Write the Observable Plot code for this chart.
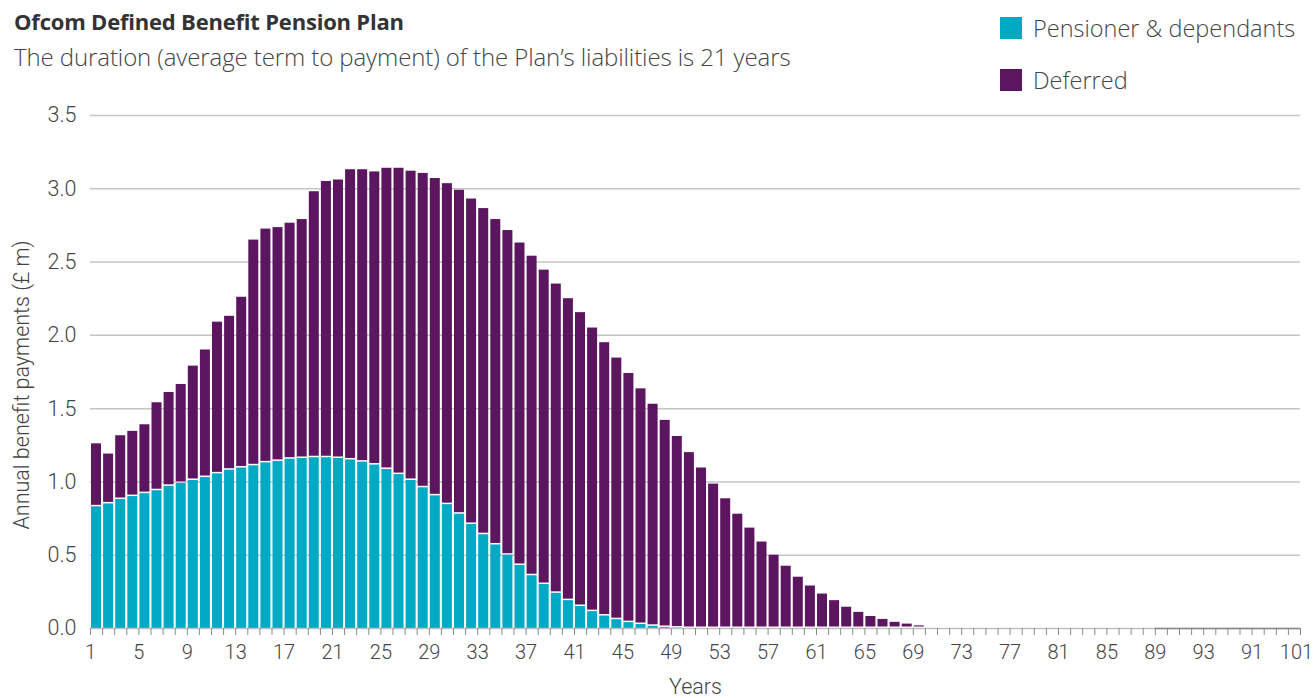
<!DOCTYPE html>
<html><head><meta charset="utf-8">
<script src="https://cdn.jsdelivr.net/npm/d3@7"></script>
<script src="https://cdn.jsdelivr.net/npm/@observablehq/plot@0.6"></script>
<style>
body{margin:0;background:#fff;font-family:"Open Sans",Roboto,sans-serif;color:#3a3a3a;}
#wrap{position:relative;width:1314px;height:698px;overflow:hidden;}
#head{position:relative;height:100px;}
#title{position:absolute;left:14px;top:6px;font-size:22px;font-weight:700;color:#333;letter-spacing:-0.2px;}
#sub{position:absolute;left:14px;top:40px;font-size:24px;font-weight:300;color:#444;letter-spacing:-0.1px;}
.leg{position:absolute;left:1000px;display:flex;align-items:center;font-size:23.5px;font-weight:300;color:#444;}
.sw{width:22px;height:22px;margin-right:11px;}
</style></head>
<body><div id="wrap">
<div id="head">
<div id="title">Ofcom Defined Benefit Pension Plan</div>
<div id="sub">The duration (average term to payment) of the Plan’s liabilities is 21 years</div>
<div class="leg" style="top:12px"><div class="sw" id="sw0"></div><span id="lg0"></span></div>
<div class="leg" style="top:64px"><div class="sw" id="sw1"></div><span id="lg1"></span></div>
</div>
<div id="chart"></div>
</div>
<script>
const seriesNames = ["Pensioner & dependants", "Deferred"];
const seriesColors = ["#00a9c4", "#5c165f"];
const years = d3.range(1, 101);
const pensioner = [
 0.83,0.85,0.88,0.90,0.92,0.94,0.97,0.99,1.01,1.03,
 1.055,1.08,1.095,1.11,1.13,1.14,1.155,1.16,1.165,1.165,
 1.16,1.15,1.135,1.115,1.085,1.05,1.01,0.96,0.905,0.845,
 0.78,0.71,0.64,0.57,0.50,0.43,0.36,0.30,0.24,0.19,
 0.15,0.115,0.085,0.06,0.04,0.027,0.015,0.007,0.003,0,
 0,0,0,0,0,0,0,0,0,0,
 0,0,0,0,0,0,0,0,0,0,
 0,0,0,0,0,0,0,0,0,0,
 0,0,0,0,0,0,0,0,0,0,
 0,0,0,0,0,0,0,0,0,0];
const deferred = [
 0.43,0.34,0.435,0.445,0.47,0.60,0.64,0.675,0.78,0.87,
 1.035,1.05,1.165,1.54,1.595,1.595,1.61,1.63,1.815,1.885,
 1.90,1.98,1.995,2.00,2.055,2.09,2.11,2.145,2.165,2.19,
 2.21,2.22,2.225,2.22,2.215,2.20,2.18,2.145,2.11,2.06,
 2.005,1.935,1.865,1.785,1.70,1.608,1.515,1.413,1.307,1.20,
 1.095,0.985,0.885,0.78,0.685,0.59,0.50,0.425,0.35,0.29,
 0.235,0.19,0.145,0.11,0.082,0.062,0.042,0.03,0.018,0.009,
 0.004,0,0,0,0,0,0,0,0,0,
 0,0,0,0,0,0,0,0,0.003,0.003,
 0.003,0.003,0.003,0.003,0.003,0.003,0.003,0.003,0.003,0.003];
const yTicks = [0,0.5,1,1.5,2,2.5,3,3.5];
const xTickValues = [1,5,9,13,17,21,25,29,33,37,41,45,49,53,57,61,65,69,73,77,81,85,89,93,97,101];
const xTickLabels = ["1","5","9","13","17","21","25","29","33","37","41","45","49","53","57","61","65","69","73","77","81","85","89","93","91","101"];
const xTitle = "Years";
const yTitle = "Annual benefit payments (£ m)";

document.getElementById("sw0").style.background = seriesColors[0];
document.getElementById("sw1").style.background = seriesColors[1];
document.getElementById("lg0").textContent = seriesNames[0];
document.getElementById("lg1").textContent = seriesNames[1];

const rows = years.map((yr, i) => ({year: yr, p: pensioner[i], d: deferred[i]}));
const mainRows = rows.filter(r => r.year < 80);
const tailRows = rows.filter(r => r.year > 80 && r.d > 0);
const tail = [{a: d3.min(tailRows, r => r.year), b: d3.max(tailRows, r => r.year) + 1}];

const chart = Plot.plot({
  width: 1314, height: 598,
  marginTop: 15, marginBottom: 70, marginLeft: 90, marginRight: 14,
  style: {fontFamily: "Roboto, sans-serif", fontSize: "19px", color: "#444", background: "#fff", overflow: "visible"},
  x: {type: "linear", domain: [1, 101]},
  y: {domain: [0, 3.5]},
  marks: [
    Plot.ruleY(yTicks.filter(t => t > 0), {stroke: "#c6c6c6", strokeWidth: 1.5}),
    Plot.rect(mainRows.filter(r => r.p > 0), {x1: "year", x2: r => r.year + 1, y1: () => 0, y2: "p", fill: seriesColors[0], insetLeft: 1, insetRight: 1.1}),
    Plot.rect(mainRows.filter(r => r.d > 0), {x1: "year", x2: r => r.year + 1, y1: "p", y2: r => r.p + r.d, fill: seriesColors[1], insetLeft: 1, insetRight: 1.1, insetBottom: 1.5}),
    Plot.ruleY([0], {stroke: "#c0c0c0", strokeWidth: 1.5}),
    Plot.ruleY(tail, {y: () => 0, x1: "a", x2: "b", stroke: "#8a8a8a", strokeWidth: 1.5}),
    Plot.axisX({ticks: years.concat([101]), tickSize: 7, tickPadding: 9, stroke: "#8a8a8a", fill: "#444", fontSize: 20, fontWeight: 300,
      tickFormat: d => { const k = xTickValues.indexOf(d); return k >= 0 ? xTickLabels[k] : ""; }, label: null}),
    Plot.axisY({ticks: yTicks, tickSize: 0, tickPadding: 14, tickFormat: d3.format(".1f"), fontSize: 21.5, fontWeight: 300, fill: "#444", label: null}),
    Plot.text([xTitle], {text: d => d, frameAnchor: "bottom", textAnchor: "middle", dy: 65, fontSize: 21.5, fill: "#444", fontWeight: 300}),
    Plot.text([yTitle], {text: d => d, frameAnchor: "left", textAnchor: "middle", dx: -68, dy: 13, rotate: -90, fontSize: 21.5, fill: "#444", fontWeight: 300})
  ]
});
document.getElementById("chart").appendChild(chart);
// keep the last x tick label inside the picture
const xLabels = Array.from(chart.querySelectorAll("text")).filter(t => t.textContent === xTickLabels[xTickLabels.length - 1]);
xLabels.forEach(t => t.setAttribute("dx", "-4"));
</script>
</body></html>
